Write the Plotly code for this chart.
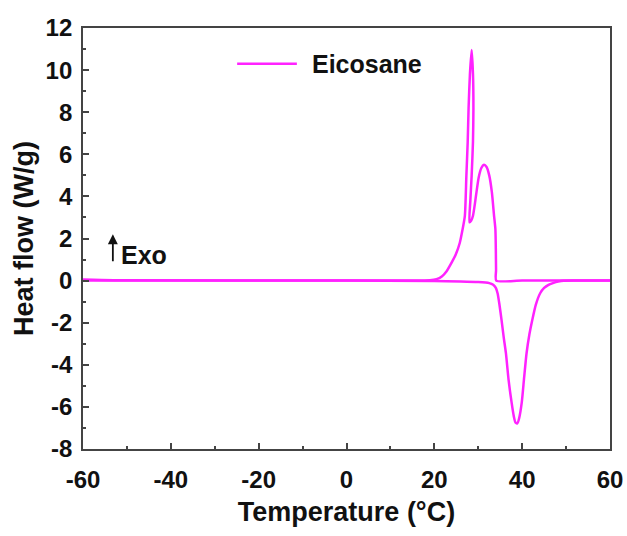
import plotly.graph_objects as go

# Heating scan (endothermic melting peak, negative)
T_heat = [-60, -53, 0, 20, 26, 30, 32.5, 33.4, 34.0, 34.4, 34.8, 35.3, 35.8, 36.3, 36.9,
          37.6, 38.1, 38.5, 38.9, 39.3, 39.9, 40.45, 41.0, 41.65, 42.3, 43.1, 44.1, 45.0, 46.0,
          47.0, 48.2, 49.5, 52, 60]
Q_heat = [0.05, 0.02, 0.0, -0.02, -0.04, -0.07, -0.12, -0.2, -0.35, -0.6, -1.1, -1.87, -2.7,
          -3.45, -4.7, -5.8, -6.45, -6.75, -6.78, -6.55, -5.8, -4.6, -3.45, -2.55, -1.87, -1.15,
          -0.6, -0.35, -0.2, -0.12, -0.05, -0.01, 0, 0]

# Cooling scan (exothermic crystallization peaks, positive)
T_cool = [60, 40, 34.1, 34.05, 34.0, 33.9, 33.6, 33.1, 32.5, 31.9, 31.3, 30.7, 30.1, 29.6,
          29.2, 28.8, 28.4, 28.0, 28.2, 28.5, 28.8, 28.9, 28.8, 28.5, 28.1, 27.8, 27.6, 27.3,
          26.95, 26.4, 25.8, 24.9, 23.9, 22.8, 21.7, 20.5, 19, 0, -60]
Q_cool = [0, 0, 0.0, 0.5, 1.5, 2.45, 3.08, 4.2, 5.0, 5.4, 5.5, 5.35, 4.9, 4.2, 3.6, 3.08,
          2.85, 2.77, 3.8, 5.0, 6.6, 8.2, 9.8, 10.95, 9.8, 8.2, 6.6, 5.0, 3.08, 2.4, 1.8,
          1.25, 0.84, 0.45, 0.2, 0.07, 0.02, 0, 0]

x_ticks = [-60, -40, -20, 0, 20, 40, 60]
y_ticks = [-8, -6, -4, -2, 0, 2, 4, 6, 8, 10, 12]
series_name = "Eicosane"
color = "#FF22FF"
FONT = "Liberation Sans"
INK = "#111"

fig = go.Figure()
for xs, ys in ((T_heat, Q_heat), (T_cool, Q_cool)):
    fig.add_trace(go.Scatter(x=xs, y=ys, mode="lines", name=series_name,
                             line=dict(color=color, width=2.5, shape="spline", smoothing=0.6),
                             showlegend=False))

# legend sample (manual, to match long line)
fig.add_shape(type="line", xref="x", yref="y", x0=-24.9, x1=-11.3, y0=10.3, y1=10.3,
              line=dict(color=color, width=2.5))
fig.add_annotation(x=-8.3, y=10.3, xref="x", yref="y", text="<b>" + series_name + "</b>",
                   showarrow=False, xanchor="left", yanchor="middle",
                   font=dict(family=FONT, size=25, color=INK))

# Exo arrow
fig.add_annotation(x=-53.2, y=2.2, ax=-53.2, ay=0.85, xref="x", yref="y", axref="x", ayref="y",
                   text="", showarrow=True, arrowhead=2, arrowsize=1.1, arrowwidth=1.8,
                   arrowcolor=INK)
fig.add_annotation(x=-51.7, y=1.2, xref="x", yref="y", text="<b>Exo</b>", showarrow=False,
                   xanchor="left", yanchor="middle", font=dict(family=FONT, size=25, color=INK))

axis_common = dict(showline=True, linecolor="#444", linewidth=1.8, mirror=True,
                   ticks="inside", tickcolor="#444", tickwidth=1.5, ticklen=6,
                   showgrid=False, zeroline=False, automargin=False,
                   tickfont=dict(family=FONT, size=24, color=INK, weight="bold"))

fig.update_xaxes(range=[-60, 60], tickvals=x_ticks, ticktext=[str(v) for v in x_ticks],
                 minor=dict(dtick=10, ticks="inside", ticklen=3, tickcolor="#444", tickwidth=1.5),
                 ticklabelstandoff=8,
                 title=dict(text="<b>Temperature (°C)</b>", font=dict(family=FONT, size=27, color=INK),
                            standoff=10),
                 **axis_common)
fig.update_yaxes(range=[-8, 12], tickvals=y_ticks, ticktext=[str(v) for v in y_ticks],
                 minor=dict(dtick=1, ticks="inside", ticklen=3, tickcolor="#444", tickwidth=1.5),
                 ticklabelstandoff=4,
                 title=dict(text="<b>Heat flow (W/g)</b>", font=dict(family=FONT, size=27, color=INK),
                            standoff=4),
                 **axis_common)

fig.update_layout(width=627, height=536, margin=dict(l=83, r=17, t=28, b=87),
                  plot_bgcolor="white", paper_bgcolor="white", showlegend=False,
                  font=dict(family=FONT))

fig.write_html("out.html")
